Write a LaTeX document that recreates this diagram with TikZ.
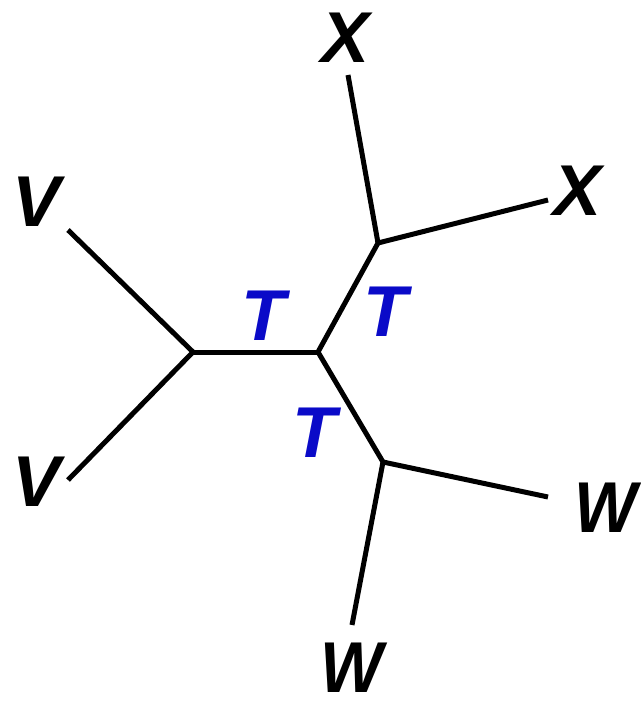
\documentclass[tikz,border=0pt]{standalone}
\usepackage{fontspec}
\setmainfont{Liberation Sans}
\definecolor{tblue}{RGB}{10,10,200}
\begin{document}
\begin{tikzpicture}[x=1pt,y=-1pt,
  edge/.style={line width=5pt},
  lbl/.style={inner sep=0pt,font=\fontsize{72}{78}\selectfont\itshape\bfseries},
  tlbl/.style={lbl,text=tblue}]
\useasboundingbox (0,0) rectangle (640,703);
\coordinate (A) at (193,352);
\coordinate (B) at (318,352);
\coordinate (C) at (378,243);
\coordinate (D) at (383,462);
\coordinate (v1) at (68,230);
\coordinate (v2) at (68,480);
\coordinate (x1) at (348,75);
\coordinate (x2) at (548,200);
\coordinate (w1) at (548,497);
\coordinate (w2) at (352,625);
\draw[edge] (v1) -- (A);
\draw[edge] (v2) -- (A);
\draw[edge] (A) -- (B);
\draw[edge] (B) -- (C);
\draw[edge] (C) -- (x1);
\draw[edge] (C) -- (x2);
\draw[edge] (B) -- (D);
\draw[edge] (D) -- (w1);
\draw[edge] (D) -- (w2);
\node[lbl] (lv1) at (37,202) {V};
\node[lbl] (lv2) at (37,482) {V};
\node[lbl] (lx1) at (346,38) {X};
\node[lbl] (lx2) at (578,191) {X};
\node[lbl,xscale=0.92] (lw1) at (606,508) {W};
\node[lbl,xscale=0.92] (lw2) at (352,668) {W};
\node[tlbl] (t1) at (263,316) {T};
\node[tlbl] (t2) at (385,312) {T};
\node[tlbl] (t3) at (314,433) {T};
\end{tikzpicture}
\end{document}
